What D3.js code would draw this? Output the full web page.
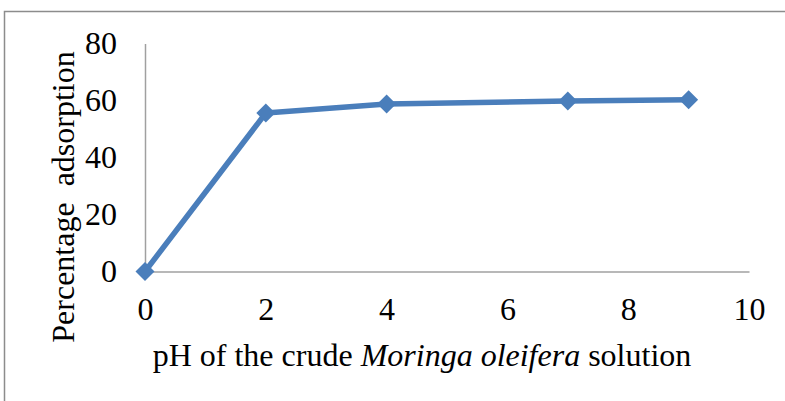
<!DOCTYPE html>
<html><head><meta charset="utf-8">
<script src="https://cdn.jsdelivr.net/npm/d3@7"></script>
<style>body{margin:0;background:#fff}svg{display:block}</style>
</head><body>
<script>
const phValues = [0, 2, 4, 7, 9];
const adsorption = [0, 55.6, 58.8, 59.8, 60.3];
const xTicks = [0, 2, 4, 6, 8, 10];
const yTicks = [0, 20, 40, 60, 80];

const W = 785, H = 401;
const svg = d3.select("body").append("svg").attr("width", W).attr("height", H);
const font = "'Liberation Serif','Times New Roman',serif";
const fs = 32;

svg.append("rect").attr("x", 4.5).attr("y", 11.5).attr("width", W + 10).attr("height", H + 10)
  .attr("fill", "none").attr("stroke", "#8c8c8c").attr("stroke-width", 1.5);

const x = d3.scaleLinear().domain([0, 10]).range([145, 749]);
const y = d3.scaleLinear().domain([0, 80]).range([271.5, 43.5]);

const xAxis = svg.append("g").attr("transform", `translate(0,${y(0)})`)
  .call(d3.axisBottom(x).tickValues(xTicks).tickSize(0).tickPadding(26));
const yAxis = svg.append("g").attr("transform", `translate(${x(0)},0)`)
  .call(d3.axisLeft(y).tickValues(yTicks).tickSize(0).tickPadding(28));
[xAxis, yAxis].forEach(g => {
  g.select(".domain").attr("stroke", "#a0a0a0").attr("stroke-width", 1.5);
  g.selectAll("text").attr("font-family", font).attr("font-size", fs).attr("fill", "#000");
});
xAxis.selectAll("text").attr("dy", "0.71em");

const line = d3.line().x((d, i) => x(phValues[i])).y(d => y(d));
svg.append("path").datum(adsorption).attr("d", line)
  .attr("fill", "none").attr("stroke", "#4a7ebb").attr("stroke-width", 5.5).attr("stroke-linejoin", "round");

svg.selectAll(".m").data(adsorption).enter().append("path")
  .attr("d", "M0,-9.5L9.5,0L0,9.5L-9.5,0Z")
  .attr("transform", (d, i) => `translate(${x(phValues[i])},${y(d)})`)
  .attr("fill", "#4a7ebb");

const xt = svg.append("text").attr("x", 422).attr("y", 366).attr("text-anchor", "middle")
  .attr("font-family", font).attr("font-size", fs).attr("fill", "#000");
xt.append("tspan").text("pH of the crude ");
xt.append("tspan").attr("font-style", "italic").text("Moringa oleifera");
xt.append("tspan").text(" solution");

svg.append("text").attr("transform", "translate(74,197) rotate(-90)").attr("text-anchor", "middle")
  .attr("font-family", font).attr("font-size", fs).attr("fill", "#000")
  .attr("xml:space", "preserve").style("white-space", "pre")
  .text("Percentage  adsorption");
</script>
</body></html>
